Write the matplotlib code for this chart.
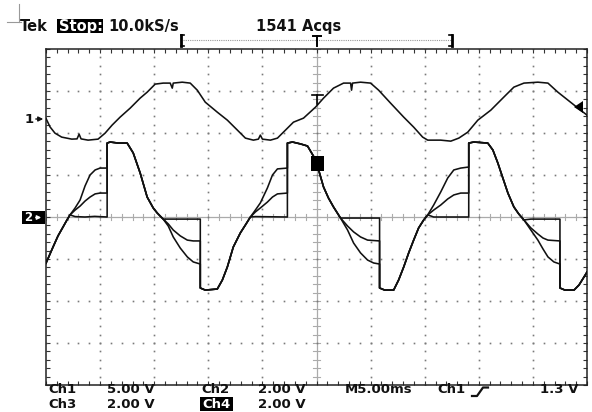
import numpy as np
import matplotlib
matplotlib.use('Agg')
import matplotlib.pyplot as plt
from matplotlib.patches import Rectangle, Polygon

# ---------------- data (time in ms, voltage in V) ----------------
ch1_t = [0.00, 0.37, 0.83, 1.45, 2.38, 2.87, 3.06, 3.24, 3.89, 4.81, 5.46, 6.11, 6.85, 7.78,
         8.70, 9.35, 10.09, 10.83, 11.48, 11.67, 11.76, 12.59, 13.33, 13.98, 14.72, 15.83,
         16.76, 17.69, 18.43, 19.17, 19.63, 19.81, 20.00, 20.74, 21.39, 22.13, 22.87, 23.80,
         24.91, 25.65, 26.57, 27.50, 28.15, 28.24, 28.33, 29.07, 30.00, 30.74, 31.85, 33.06,
         33.98, 34.81, 35.28, 36.48, 37.41, 38.15, 38.98, 39.91, 41.11, 42.31, 43.24, 44.17,
         45.46, 46.39, 47.31, 48.24, 49.17, 50.00]
ch1_v = [0.08, -0.92, -1.67, -2.14, -2.38, -2.35, -1.79, -2.35, -2.50, -2.38, -1.67, -0.71, 0.24, 1.31,
         2.50, 3.21, 4.17, 4.29, 4.29, 3.69, 4.29, 4.40, 4.29, 3.45, 2.02, 0.83,
         -0.12, -1.31, -2.26, -2.50, -2.38, -1.90, -2.38, -2.50, -2.26, -1.31, -0.36, 0.12,
         1.43, 2.50, 3.69, 4.29, 4.29, 3.45, 4.29, 4.40, 4.29, 3.45, 1.90, 0.24,
         -0.95, -2.14, -2.50, -2.50, -2.62, -2.26, -1.55, -0.12, 1.07, 2.62, 3.81, 4.29,
         4.40, 4.29, 3.21, 2.26, 1.31, 0.48]

# shared segments of Ch2/Ch3/Ch4
rise0 = [(0.0, -2.2), (0.37, -1.76), (0.65, -1.43), (1.11, -0.90), (1.57, -0.48), (1.94, -0.14), (2.22, 0.10)]
fall1 = [(5.65, 3.52), (5.93, 3.57), (6.67, 3.52), (7.50, 3.52), (8.06, 3.05), (8.70, 2.10), (9.35, 0.95),
         (9.91, 0.43), (10.28, 0.19), (10.83, -0.10)]
rise1 = [(14.26, -3.38), (14.72, -3.48), (15.83, -3.43), (16.30, -3.00), (16.76, -2.38), (17.31, -1.43),
         (17.96, -0.76), (18.43, -0.38), (18.89, 0.0)]
fall2 = [(22.31, 3.52), (22.78, 3.57), (23.52, 3.48), (24.17, 3.38), (24.72, 2.90), (25.09, 2.43),
         (25.65, 1.43), (26.11, 0.90), (26.57, 0.48), (27.22, -0.05)]
rise2 = [(30.83, -3.38), (31.30, -3.48), (32.13, -3.48), (32.59, -3.00), (33.06, -2.38), (33.52, -1.71),
         (33.98, -1.10), (34.44, -0.52), (34.91, -0.14), (35.28, 0.10)]
fall3 = [(39.07, 3.52), (39.54, 3.57), (40.83, 3.52), (41.30, 3.19), (41.76, 2.57), (42.22, 1.86),
         (42.69, 1.14), (43.24, 0.48), (43.70, 0.14), (44.17, -0.14)]
rise3 = [(47.50, -3.38), (47.96, -3.48), (48.80, -3.48), (49.26, -3.24), (49.72, -2.86), (50.0, -2.62)]

# branch segments, per channel
ch2_branches = [
    [(2.69, 0.43), (3.15, 0.81), (3.61, 1.48), (4.07, 2.00), (4.54, 2.24), (5.00, 2.33), (5.65, 2.33)],
    [(11.30, -0.43), (11.76, -0.95), (12.41, -1.48), (13.06, -1.90), (13.61, -2.14), (14.26, -2.24)],
    [(19.35, 0.33), (19.81, 0.67), (20.46, 1.38), (20.93, 2.00), (21.39, 2.29), (22.31, 2.33)],
    [(27.87, -0.62), (28.43, -1.24), (29.07, -1.71), (29.72, -2.05), (30.28, -2.19), (30.83, -2.24)],
    [(35.83, 0.57), (36.48, 1.19), (37.13, 1.86), (37.69, 2.24), (38.33, 2.33), (39.07, 2.38)],
    [(44.81, -0.62), (45.46, -1.10), (45.93, -1.52), (46.39, -1.90), (46.94, -2.14), (47.50, -2.24)],
]
ch3_branches = [
    [(2.69, 0.33), (3.15, 0.52), (3.61, 0.76), (4.07, 0.95), (4.54, 1.10), (5.00, 1.14), (5.65, 1.14)],
    [(11.30, -0.33), (11.76, -0.62), (12.41, -0.90), (13.06, -1.10), (13.61, -1.14), (14.26, -1.14)],
    [(19.35, 0.24), (19.81, 0.43), (20.46, 0.71), (20.93, 0.95), (21.39, 1.10), (22.31, 1.14)],
    [(27.87, -0.43), (28.43, -0.71), (29.07, -0.95), (29.72, -1.10), (30.83, -1.14)],
    [(35.83, 0.33), (36.48, 0.57), (37.13, 0.86), (37.69, 1.05), (38.33, 1.14), (39.07, 1.14)],
    [(44.81, -0.52), (45.46, -0.81), (45.93, -1.00), (46.39, -1.10), (47.50, -1.14)],
]
ch4_branches = [
    [(2.69, 0.02), (3.60, 0.0), (4.50, 0.03), (5.65, 0.0)],
    [(11.30, -0.10), (14.26, -0.10)],
    [(19.35, 0.02), (22.31, 0.0)],
    [(27.87, -0.05), (30.83, -0.05)],
    [(35.83, 0.0), (39.07, 0.0)],
    [(44.81, -0.10), (47.50, -0.10)],
]

CH1_VDIV = 5.0
CH1_POS = 2.33      # divisions
CH234_VDIV = 2.0

# ---------------- figure ----------------
W, H = 592, 412
fig = plt.figure(figsize=(W / 100, H / 100), dpi=100, facecolor='white')
L, R, T, B = 46, 587, 49, 385
ax = fig.add_axes([L / W, 1 - B / H, (R - L) / W, (B - T) / H])
ax.set_xlim(0, 50)
ax.set_ylim(-4, 4)
ax.set_facecolor('white')
ax.set_xticks(np.arange(0, 51, 5))
ax.set_xticks(np.arange(0, 51, 1), minor=True)
ax.set_yticks(np.arange(-4, 4.01, 1))
ax.set_yticks(np.arange(-4, 4.01, 0.2), minor=True)
ax.tick_params(which='both', direction='in', top=True, right=True, bottom=True, left=True,
               labelbottom=False, labelleft=False, length=3, width=0.8, color='#333333')
for s in ax.spines.values():
    s.set_linewidth(1.1)
    s.set_color('#222222')

dot_c = '#7a7a7a'
ydots = np.arange(-4, 4.001, 0.2)
xdots = np.arange(0, 50.001, 1.0)
for xv in [5, 10, 15, 20, 30, 35, 40, 45]:
    ax.plot(np.full_like(ydots, xv), ydots, ls='none', marker='s', ms=1.2, color=dot_c, mew=0)
for yv in [-3, -2, -1, 1, 2, 3]:
    ax.plot(xdots, np.full_like(xdots, yv), ls='none', marker='s', ms=1.2, color=dot_c, mew=0)

# center cross with ticks
cc = '#ababab'
ax.axhline(0, color=cc, lw=0.9, zorder=1)
ax.axvline(25, color=cc, lw=0.9, zorder=1)
for xv in xdots:
    ax.plot([xv, xv], [-0.07, 0.07], color=cc, lw=0.8, zorder=1)
for yv in ydots:
    ax.plot([24.72, 25.28], [yv, yv], color=cc, lw=0.8, zorder=1)


def build(branches):
    shared = [rise0, fall1, rise1, fall2, rise2, fall3, rise3]
    pts = []
    for i, seg in enumerate(shared):
        pts += seg
        if i < len(branches):
            pts += branches[i]
    arr = np.array(pts)
    return arr[:, 0], arr[:, 1]


tc = '#111111'
ax.plot(ch1_t, np.array(ch1_v) / CH1_VDIV + CH1_POS, color=tc, lw=1.15, zorder=3)
for br in (ch2_branches, ch3_branches, ch4_branches):
    t, v = build(br)
    ax.plot(t, v / CH234_VDIV, color=tc, lw=1.15, zorder=3)

# ---------------- overlay (pixel coordinates) ----------------
ov = fig.add_axes([0, 0, 1, 1])
ov.set_xlim(0, W)
ov.set_ylim(H, 0)
ov.axis('off')
ov.patch.set_alpha(0)

fkw = dict(fontsize=10.5, fontweight='bold', family='DejaVu Sans', color='#111111', va='center', ha='left')
bkw = {**fkw, 'fontsize': 9.5}

# top-left corner mark
ov.plot([19, 19], [4, 22], color='#999999', lw=0.8)
ov.plot([7, 21], [22, 22], color='#999999', lw=0.8)

ov.text(20, 26, 'Tek', **fkw)
ov.add_patch(Rectangle((57, 19), 46, 14, color='black', lw=0))
ov.text(59, 26, 'Stop:', **{**fkw, 'color': 'white'})
ov.text(108, 26, '10.0kS/s', **fkw)
ov.text(256, 26, '1541 Acqs', **fkw)

# record-view bracket
ov.plot([183, 451], [40, 40], color='#999999', lw=0.8, ls=(0, (1, 1)))
for xb, d in [(181, 1), (452, -1)]:
    ov.plot([xb, xb], [35, 46], color='black', lw=2.0)
    ov.plot([xb, xb + 3 * d], [35, 35], color='black', lw=1.2)
    ov.plot([xb, xb + 3 * d], [46, 46], color='black', lw=1.2)
ov.plot([313, 321], [36, 36], color='black', lw=1.4)
ov.plot([317, 317], [36, 46], color='black', lw=1.4)

# trigger marker on graticule
ov.plot([312, 323], [95, 95], color='black', lw=1.2)
ov.plot([317, 317], [95, 104], color='black', lw=1.2)
ov.add_patch(Rectangle((311, 156), 13, 15, color='black', lw=0, zorder=5))
ov.add_patch(Polygon([(574, 107), (583, 101), (583, 113)], closed=True, color='black', lw=0))

# channel markers
ov.text(25, 119, '1', **{**fkw, 'fontsize': 9.5})
ov.annotate('', xy=(46, 119), xytext=(33, 119),
            arrowprops=dict(arrowstyle='-|>', color='#111111', lw=1.0, mutation_scale=7))
ov.add_patch(Rectangle((22, 211), 23, 13, color='black', lw=0))
ov.text(24, 217.5, '2', **{**fkw, 'fontsize': 8.5, 'color': 'white'})
ov.annotate('', xy=(44, 217.5), xytext=(33, 217.5),
            arrowprops=dict(arrowstyle='-|>', color='white', lw=1.0, mutation_scale=6))

# bottom readouts
y1, y2 = 389.5, 404
ov.text(48, y1, 'Ch1', **bkw)
ov.text(107, y1, '5.00 V', **bkw)
ov.text(201, y1, 'Ch2', **bkw)
ov.text(258, y1, '2.00 V', **bkw)
ov.text(345, y1, 'M5.00ms', **bkw)
ov.text(437, y1, 'Ch1', **bkw)
ov.plot([472, 477, 483, 488], [396, 396, 387.5, 387.5], color='#111111', lw=1.6)
ov.text(540, y1, '1.3 V', **bkw)
ov.text(48, y2, 'Ch3', **bkw)
ov.text(107, y2, '2.00 V', **bkw)
ov.add_patch(Rectangle((200, 397), 33, 14, color='black', lw=0))
ov.text(202, y2, 'Ch4', **{**bkw, 'color': 'white'})
ov.text(258, y2, '2.00 V', **bkw)

fig.savefig('out.png', dpi=100, facecolor='white')
